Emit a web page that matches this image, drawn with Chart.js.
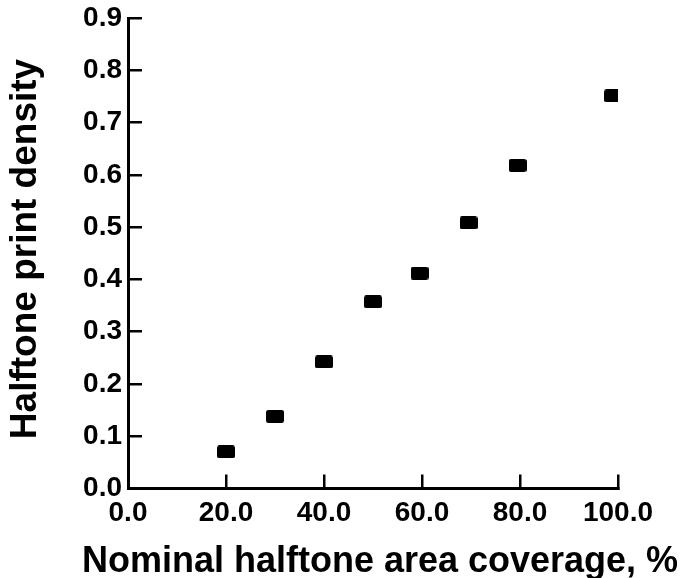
<!DOCTYPE html>
<html>
<head>
<meta charset="utf-8">
<script src="https://cdn.jsdelivr.net/npm/chart.js@4/dist/chart.umd.min.js"></script>
<style>
  html, body { margin: 0; padding: 0; background: #fff; }
  #wrap { width: 696px; height: 578px; }
</style>
</head>
<body>
<div id="wrap"><canvas id="myChart" width="696" height="578"></canvas></div>
<script>
// nominal coverage (%) and measured density
var coverage = [20, 30, 40, 50, 59.5, 69.5, 79.5, 99];
var density = [0.070, 0.138, 0.242, 0.357, 0.412, 0.508, 0.618, 0.751];
var xTicks = [0, 20, 40, 60, 80, 100];
var yTicks = [0, 0.1, 0.2, 0.3, 0.4, 0.5, 0.6, 0.7, 0.8, 0.9];
var xTitle = 'Nominal halftone area coverage, %';
var yTitle = 'Halftone print density';

var fam = "'Liberation Sans', Arial, Helvetica, sans-serif";

// little black rounded block used as the marker
var marker = document.createElement('canvas');
marker.width = 18;
marker.height = 13;
var mctx = marker.getContext('2d');
mctx.fillStyle = '#000';
mctx.beginPath();
mctx.roundRect(0, 0, 18, 13, 2.5);
mctx.fill();

var points = [];
for (var i = 0; i < coverage.length; i++) {
  points.push({x: coverage[i], y: density[i]});
}

// axis titles drawn by hand, the built-in ones get squeezed to the axis length
var axisTitles = {
  id: 'axisTitles',
  afterDraw: function(chart) {
    var c = chart.ctx;
    c.save();
    c.fillStyle = '#000';
    c.textAlign = 'center';
    c.textBaseline = 'alphabetic';
    c.font = 'bold 36px ' + fam;
    c.fillText(xTitle, 380, 572);
    c.font = 'bold 37px ' + fam;
    c.translate(36, 249);
    c.rotate(-Math.PI / 2);
    c.fillText(yTitle, 0, 0);
    c.restore();
  }
};

var ctx = document.getElementById('myChart').getContext('2d');
var chart = new Chart(ctx, {
  type: 'scatter',
  data: {
    datasets: [{
      data: points,
      pointStyle: marker,
      pointRadius: 9,
      pointHoverRadius: 9
    }]
  },
  options: {
    responsive: false,
    animation: false,
    events: [],
    layout: { padding: { top: 18, right: 78, bottom: 0, left: 0 } },
    plugins: { legend: { display: false }, tooltip: { enabled: false } },
    scales: {
      x: {
        type: 'linear',
        min: 0,
        max: 100,
        afterBuildTicks: function(s) { s.ticks = xTicks.map(function(v) { return {value: v}; }); },
        afterFit: function(s) { s.height = 89.5; s.paddingLeft = 0; s.paddingRight = 0; },
        grid: { drawOnChartArea: false, drawTicks: true, tickLength: -14, color: '#000', lineWidth: 2.5 },
        border: { display: true, color: '#000', width: 3 },
        ticks: {
          padding: 22,
          color: '#000',
          font: { family: fam, size: 28, weight: 'bold' },
          callback: function(v) { return v.toFixed(1); }
        }
      },
      y: {
        type: 'linear',
        min: 0,
        max: 0.9,
        afterBuildTicks: function(s) { s.ticks = yTicks.map(function(v) { return {value: v}; }); },
        afterFit: function(s) { s.width = 128; s.paddingTop = 0; s.paddingBottom = 0; },
        grid: { drawOnChartArea: false, drawTicks: true, tickLength: -14, color: '#000', lineWidth: 2.5 },
        border: { display: true, color: '#000', width: 3 },
        ticks: {
          padding: 20,
          color: '#000',
          font: { family: fam, size: 28, weight: 'bold' },
          callback: function(v) { return v.toFixed(1); }
        }
      }
    }
  },
  plugins: [axisTitles]
});
</script>
</body>
</html>
